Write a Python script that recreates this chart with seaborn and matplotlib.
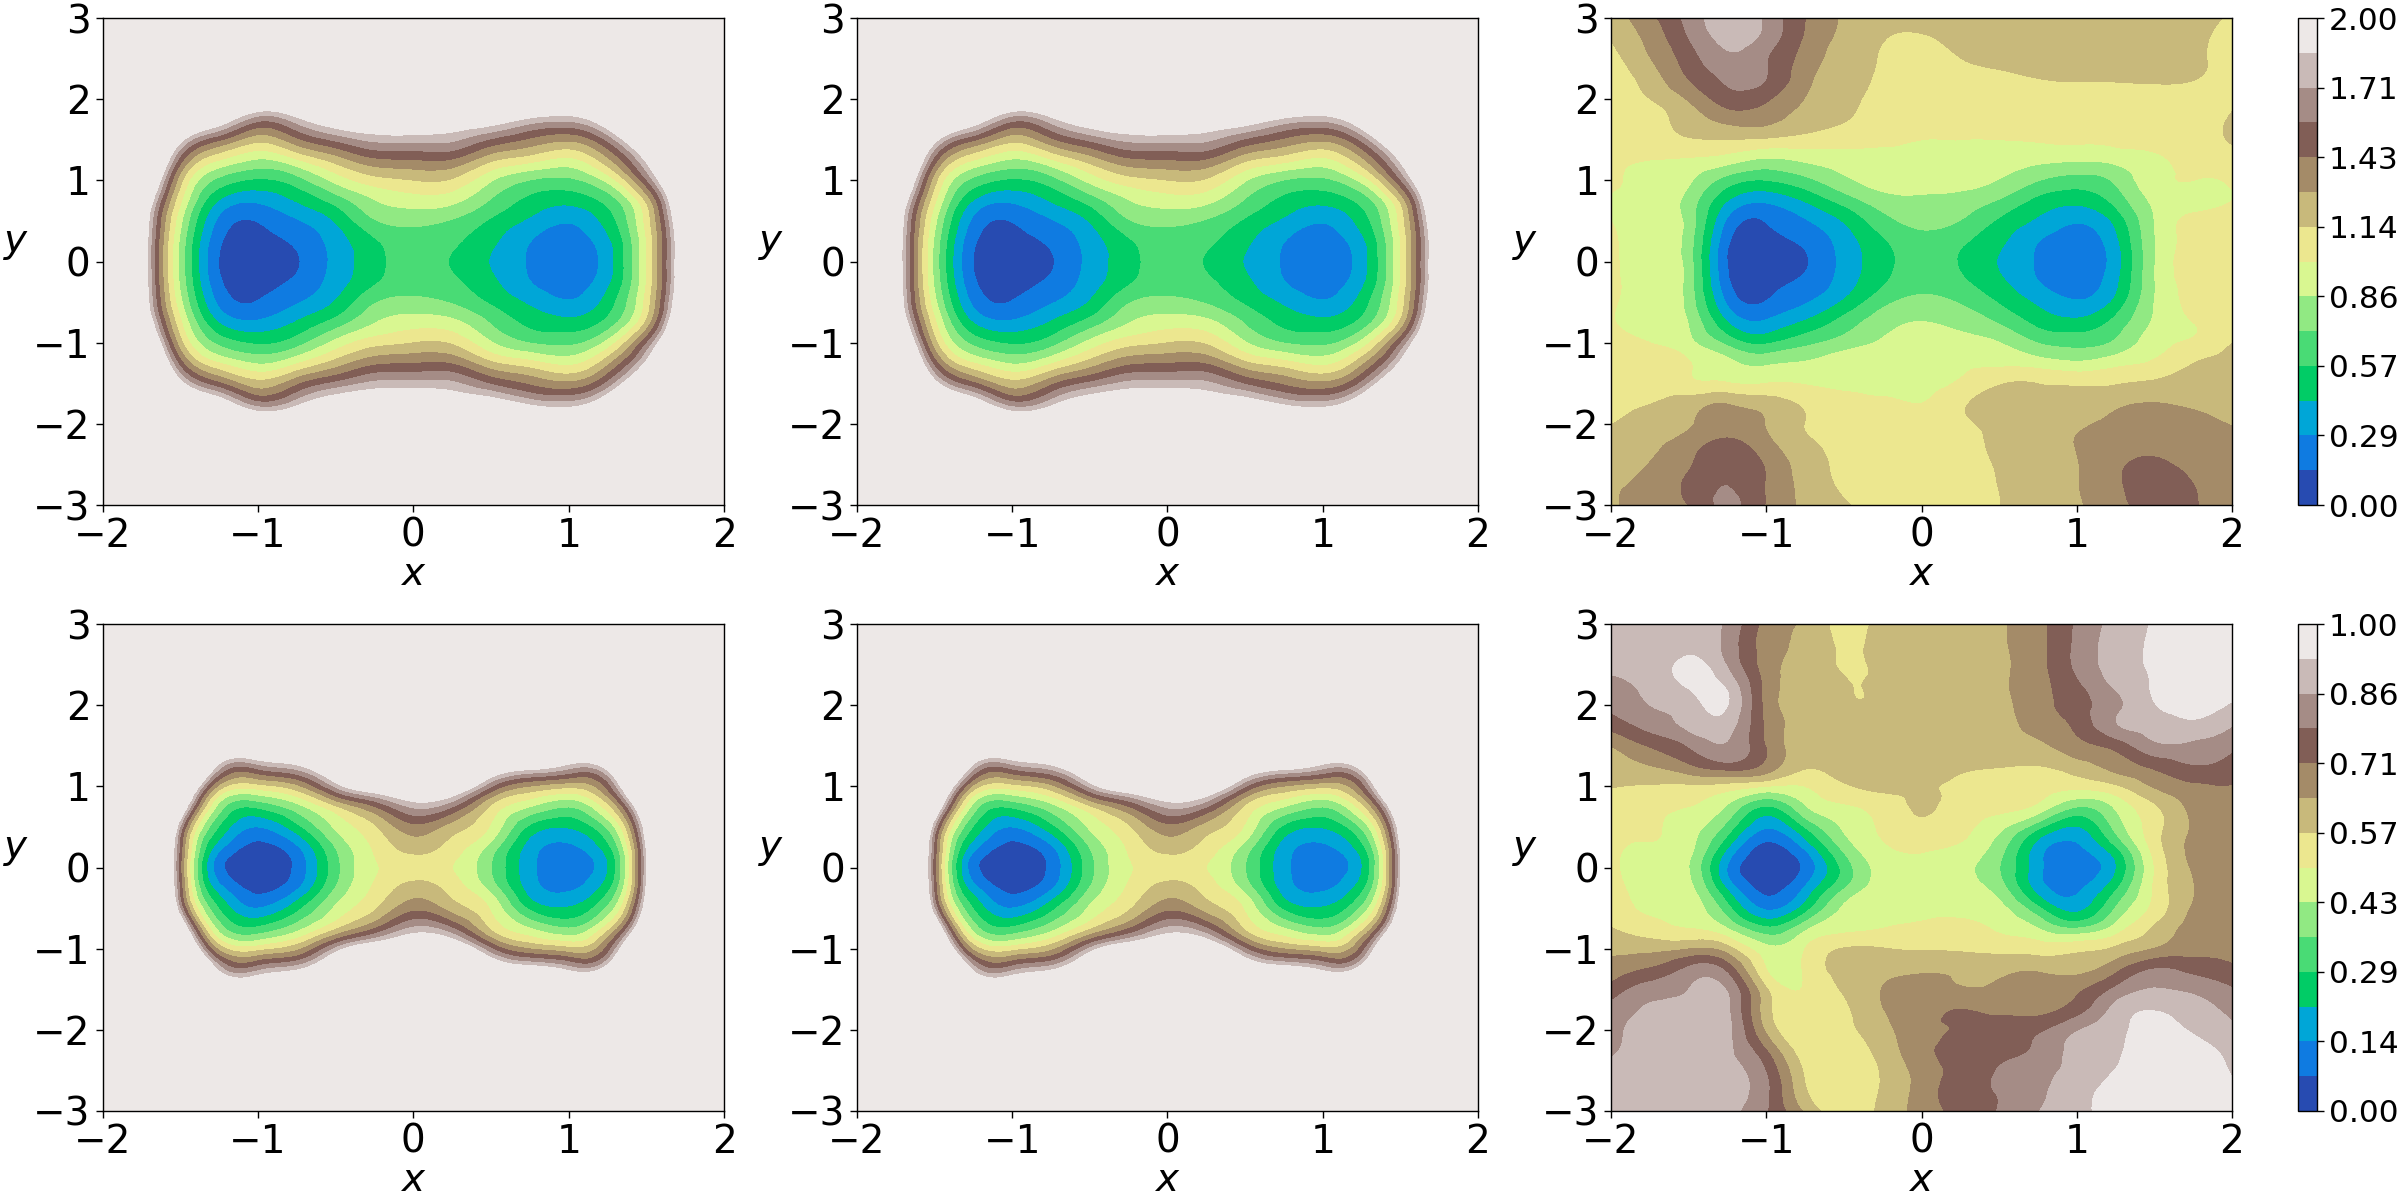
import numpy as np
import matplotlib
import matplotlib.pyplot as plt
import matplotlib.tri as mtri
import seaborn as sns
matplotlib.use('Agg')

sns.set_theme(style='ticks', rc={'axes.edgecolor': 'black', 'axes.linewidth': 1.0,
                                 'xtick.color': 'black', 'ytick.color': 'black',
                                 'text.color': 'black', 'axes.labelcolor': 'black',
                                 'xtick.major.width': 1.0, 'ytick.major.width': 1.0,
                                 'xtick.major.size': 5, 'ytick.major.size': 5})
plt.rcParams['font.family'] = ['DejaVu Sans']

x_grid = [-2, -1.75, -1.5, -1.25, -1, -0.75, -0.5, -0.25, 0, 0.25, 0.5, 0.75, 1, 1.25, 1.5, 1.75, 2]
y_half = [0, 0.25, 0.5, 0.75, 1, 1.25, 1.5, 1.75, 2, 2.25, 2.5, 2.75, 3]
y_full = [3, 2.75, 2.5, 2.25, 2, 1.75, 1.5, 1.25, 1, 0.75, 0.5, 0.25, 0,
          -0.25, -0.5, -0.75, -1, -1.25, -1.5, -1.75, -2, -2.25, -2.5, -2.75, -3]

# values, y >= 0 only for the mirrored panels
# (above the colour range they only set how steep the wall is)
top_left = [
    [4.6, 2.14, .81, .14, .04, .13, .33, .52, .63, .56, .42, .27, .20, .36, 1.0, 2.3, 4.6],
    [4.6, 2.15, .83, .17, .08, .17, .35, .55, .66, .60, .46, .29, .22, .39, 1.0, 2.3, 4.6],
    [4.7, 2.2, .90, .25, .15, .27, .44, .70, .75, .70, .55, .40, .30, .49, 1.05, 2.4, 4.7],
    [4.9, 2.4, 1.03, .42, .31, .44, .63, .85, .93, .90, .70, .53, .47, .62, 1.17, 2.6, 4.9],
    [5.2, 2.8, 1.2, .67, .55, .65, .90, 1.08, 1.14, 1.12, .87, .71, .68, .90, 1.55, 2.9, 5.2],
    [5.5, 3.2, 1.5, 1.0, .84, .98, 1.2, 1.39, 1.42, 1.41, 1.17, 1.05, .96, 1.24, 1.9, 3.3, 5.5],
    [5.9, 3.6, 1.95, 1.45, 1.19, 1.39, 1.6, 1.75, 1.76, 1.74, 1.55, 1.4, 1.31, 1.6, 2.4, 3.8, 5.9],
    [6.4, 4.2, 2.6, 2.05, 1.62, 1.8, 2.05, 2.15, 2.2, 2.1, 2.0, 1.82, 1.76, 2.1, 3.0, 4.3, 6.4],
    [7, 4.9, 3.3, 2.7, 2.3, 2.4, 2.6, 2.7, 2.75, 2.7, 2.55, 2.45, 2.35, 2.7, 3.7, 5, 7],
    [7.8, 5.7, 4.1, 3.5, 3.1, 3.2, 3.4, 3.5, 3.55, 3.5, 3.35, 3.2, 3.1, 3.5, 4.5, 5.8, 7.8],
    [8.7, 6.6, 5, 4.4, 4, 4.1, 4.3, 4.4, 4.5, 4.4, 4.3, 4.1, 4, 4.4, 5.4, 6.7, 8.7],
    [9.8, 7.7, 6.1, 5.5, 5.1, 5.2, 5.4, 5.5, 5.6, 5.5, 5.4, 5.2, 5.1, 5.5, 6.5, 7.8, 9.8],
    [11, 9, 7.3, 6.7, 6.3, 6.4, 6.6, 6.7, 6.8, 6.7, 6.6, 6.4, 6.3, 6.7, 7.7, 9, 11],
]

bottom_left = [
    [5, 2.4, .73, .10, .02, .09, .33, .49, .54, .50, .36, .165, .11, .21, .92, 2.6, 5],
    [5, 2.45, .76, .17, .05, .13, .36, .51, .60, .54, .40, .18, .13, .26, .94, 2.65, 5],
    [5.2, 2.55, .85, .28, .143, .26, .44, .56, .69, .61, .49, .27, .22, .37, 1.03, 2.75, 5.2],
    [5.4, 2.8, 1.13, .40, .30, .40, .56, .71, .87, .79, .56, .43, .36, .54, 1.24, 3, 5.4],
    [5.7, 3.1, 1.44, .62, .54, .62, .87, 1.07, 1.14, 1.1, .79, .64, .59, .74, 1.6, 3.3, 5.7],
    [6.1, 3.5, 1.85, .90, .83, .91, 1.2, 1.5, 1.5, 1.5, 1.14, 1.0, .90, 1.0, 2.0, 3.7, 6.1],
    [6.5, 4, 2.3, 1.3, 1.2, 1.3, 1.65, 1.9, 2, 1.9, 1.6, 1.45, 1.3, 1.5, 2.5, 4.2, 6.5],
    [7, 4.6, 2.9, 1.95, 1.75, 1.85, 2.2, 2.5, 2.55, 2.5, 2.2, 2.0, 1.9, 2.1, 3.1, 4.8, 7],
    [7.7, 5.3, 3.6, 2.6, 2.4, 2.5, 2.85, 3.2, 3.2, 3.2, 2.85, 2.65, 2.55, 2.8, 3.8, 5.5, 7.7],
    [8.5, 6.1, 4.4, 3.4, 3.2, 3.3, 3.6, 4, 4, 4, 3.6, 3.4, 3.3, 3.6, 4.6, 6.3, 8.5],
    [9.4, 7, 5.3, 4.3, 4.1, 4.2, 4.5, 4.9, 4.9, 4.9, 4.5, 4.3, 4.2, 4.5, 5.5, 7.2, 9.4],
    [10.4, 8, 6.3, 5.3, 5.1, 5.2, 5.5, 5.9, 5.9, 5.9, 5.5, 5.3, 5.2, 5.5, 6.5, 8.2, 10.4],
    [11.5, 9.1, 7.4, 6.4, 6.2, 6.3, 6.6, 7, 7, 7, 6.6, 6.4, 6.3, 6.6, 7.6, 9.3, 11.5],
]

top_right = [
    [1.2, 1.39, 1.62, 1.8, 1.68, 1.43, 1.27, 1.2, 1.17, 1.2, 1.22, 1.22, 1.22, 1.22, 1.22, 1.2, 1.12],
    [1.15, 1.33, 1.57, 1.76, 1.66, 1.41, 1.25, 1.15, 1.13, 1.18, 1.22, 1.22, 1.22, 1.22, 1.22, 1.18, 1.08],
    [1.09, 1.28, 1.5, 1.68, 1.58, 1.37, 1.22, 1.13, 1.08, 1.14, 1.2, 1.23, 1.23, 1.23, 1.23, 1.18, 1.07],
    [1.03, 1.21, 1.43, 1.6, 1.57, 1.33, 1.2, 1.12, 1.07, 1.07, 1.09, 1.14, 1.16, 1.16, 1.17, 1.15, 1.06],
    [1.02, 1.14, 1.3, 1.5, 1.45, 1.28, 1.18, 1.1, 1.06, 1.05, 1.05, 1.05, 1.06, 1.06, 1.06, 1.05, 1.1],
    [1.0, 1.08, 1.21, 1.33, 1.33, 1.22, 1.15, 1.09, 1.05, 1.03, 1.03, 1.03, 1.03, 1.03, 1.03, 1.03, 1.17],
    [1.03, 1.08, 1.13, 1.14, 1.12, 1.09, 1.06, 1.03, 1.0, 1.0, 1.0, 1.01, 1.02, 1.03, 1.05, 1.08, 1.16],
    [1.01, 1.0, .98, .92, .83, .88, .93, .96, .97, .96, .93, .89, .87, .90, .97, 1.04, 1.08],
    [1.01, .98, .88, .65, .57, .67, .82, .92, .94, .92, .85, .72, .65, .74, .95, 1.0, 1.02],
    [.99, .95, .80, .43, .31, .44, .63, .79, .82, .80, .70, .53, .47, .62, .89, .97, 1.0],
    [1.0, .96, .80, .26, .15, .27, .44, .66, .75, .71, .55, .40, .30, .47, .86, 1.03, 1.06],
    [1.02, .96, .78, .17, .08, .17, .35, .55, .66, .60, .46, .29, .22, .39, .85, 1.04, 1.07],
    [1.03, .96, .78, .14, .04, .13, .33, .52, .63, .56, .42, .27, .20, .36, .85, 1.05, 1.08],
    [1.03, .97, .79, .17, .08, .17, .35, .55, .66, .60, .46, .29, .22, .39, .85, 1.04, 1.07],
    [1.02, .97, .80, .26, .15, .27, .45, .67, .76, .70, .56, .40, .30, .47, .86, 1.02, 1.05],
    [1.01, .97, .85, .43, .31, .45, .63, .80, .86, .82, .70, .53, .47, .62, .88, 1.0, 1.04],
    [1.05, 1.0, .90, .67, .55, .67, .78, .88, .92, .90, .86, .71, .66, .74, .94, 1.02, 1.14],
    [1.08, 1.05, 1.01, .90, .83, .87, .94, .97, .97, .97, .97, .93, .88, .95, 1.02, 1.14, 1.2],
    [1.12, 1.08, 1.03, 1.01, 1.0, .99, .97, .97, .97, 1.02, 1.13, 1.14, 1.12, 1.13, 1.17, 1.19, 1.22],
    [1.11, 1.14, 1.22, 1.28, 1.22, 1.12, 1.06, 1.02, 1.0, 1.12, 1.18, 1.18, 1.2, 1.26, 1.29, 1.26, 1.23],
    [1.14, 1.19, 1.27, 1.36, 1.28, 1.14, 1.07, 1.03, 1.02, 1.11, 1.17, 1.2, 1.26, 1.32, 1.36, 1.33, 1.28],
    [1.18, 1.25, 1.36, 1.47, 1.33, 1.18, 1.09, 1.05, 1.04, 1.1, 1.16, 1.22, 1.29, 1.36, 1.4, 1.36, 1.32],
    [1.22, 1.29, 1.41, 1.55, 1.41, 1.22, 1.11, 1.06, 1.05, 1.11, 1.15, 1.22, 1.28, 1.4, 1.45, 1.39, 1.34],
    [1.26, 1.33, 1.46, 1.57, 1.42, 1.24, 1.12, 1.07, 1.06, 1.11, 1.145, 1.22, 1.28, 1.4, 1.5, 1.43, 1.34],
    [1.26, 1.35, 1.43, 1.6, 1.42, 1.26, 1.16, 1.08, 1.07, 1.1, 1.14, 1.21, 1.27, 1.38, 1.48, 1.44, 1.35],
]

bottom_right = [
    [.88, .89, .89, .84, .69, .63, .55, .59, .60, .61, .635, .69, .795, .88, .935, .97, .98],
    [.87, .88, .91, .83, .68, .625, .56, .595, .60, .61, .635, .69, .80, .89, .94, .98, .99],
    [.87, .89, .945, .85, .68, .61, .565, .585, .59, .60, .63, .69, .80, .89, .94, .98, .99],
    [.835, .875, .94, .91, .69, .61, .575, .58, .59, .60, .63, .69, .77, .87, .935, .98, .96],
    [.80, .857, .89, .93, .69, .62, .58, .58, .59, .60, .62, .69, .75, .84, .925, .96, .92],
    [.74, .815, .875, .89, .70, .62, .585, .585, .59, .60, .615, .67, .73, .85, .89, .91, .86],
    [.645, .72, .79, .85, .71, .60, .59, .59, .59, .60, .61, .625, .69, .74, .84, .84, .80],
    [.60, .64, .70, .755, .69, .58, .60, .60, .59, .58, .575, .57, .61, .67, .73, .78, .76],
    [.575, .565, .56, .54, .50, .50, .56, .59, .58, .56, .54, .53, .52, .56, .65, .70, .71],
    [.54, .52, .50, .42, .28, .42, .49, .53, .58, .54, .52, .48, .36, .44, .56, .66, .71],
    [.53, .51, .46, .33, .15, .29, .44, .51, .55, .52, .45, .31, .21, .38, .54, .65, .71],
    [.52, .49, .45, .22, .05, .16, .38, .49, .51, .49, .39, .18, .13, .28, .53, .66, .71],
    [.52, .47, .43, .14, .02, .09, .31, .46, .485, .45, .36, .165, .10, .21, .50, .65, .71],
    [.53, .48, .45, .20, .05, .15, .35, .47, .48, .46, .39, .18, .13, .27, .51, .64, .71],
    [.54, .49, .47, .31, .13, .25, .44, .49, .49, .48, .45, .30, .19, .36, .52, .65, .71],
    [.575, .53, .50, .43, .30, .41, .48, .50, .51, .52, .49, .43, .36, .46, .58, .67, .71],
    [.63, .62, .64, .60, .45, .50, .575, .575, .565, .56, .55, .54, .55, .585, .645, .69, .69],
    [.67, .72, .80, .76, .50, .51, .60, .625, .63, .63, .62, .63, .62, .69, .786, .76, .73],
    [.74, .82, .857, .85, .58, .505, .58, .645, .67, .65, .66, .69, .70, .80, .86, .84, .79],
    [.81, .865, .89, .87, .60, .52, .56, .64, .69, .715, .70, .70, .75, .88, .925, .89, .84],
    [.84, .875, .89, .875, .63, .52, .55, .62, .69, .72, .74, .77, .85, .91, .95, .92, .87],
    [.85, .875, .89, .87, .715, .53, .52, .60, .69, .745, .76, .80, .88, .92, .96, .96, .90],
    [.87, .88, .88, .875, .78, .56, .51, .58, .67, .74, .79, .83, .88, .93, .96, .98, .92],
    [.87, .875, .875, .875, .80, .58, .52, .58, .67, .76, .79, .84, .90, .95, .97, .98, .95],
    [.87, .87, .87, .87, .79, .63, .53, .59, .67, .74, .79, .855, .91, .95, .97, .98, .97],
]

x_ticks = [-2, -1, 0, 1, 2]
y_ticks = [-3, -2, -1, 0, 1, 2, 3]


def mirrored(rows):
    # the left panels are symmetric in y, only the upper half is listed
    rows = np.array(rows, dtype=float)
    return np.vstack([rows[:0:-1], rows])[::-1], np.r_[-np.array(y_half)[:0:-1], y_half]


cmap = sns.color_palette('terrain', as_cmap=True)
fig = plt.figure(figsize=(24, 12), dpi=100)
W, H = 2400.0, 1200.0


def add_ax(left, right, top, bottom):
    return fig.add_axes([left / W, 1 - bottom / H, (right - left) / W, (bottom - top) / H])


columns = [(102.5, 724), (857, 1478), (1611, 2232)]
rows_px = [(18, 505), (624, 1111)]
z_top, y_top = mirrored(top_left)
z_bot, y_bot = mirrored(bottom_left)
panels = [
    [(y_top, z_top), (y_top, z_top), (y_full, np.array(top_right))],
    [(y_bot, z_bot), (y_bot, z_bot), (y_full, np.array(bottom_right))],
]
maxima = [2.0, 1.0]

for r, (top, bottom) in enumerate(rows_px):
    levels = np.linspace(0, maxima[r], 15)
    for c, (left, right) in enumerate(columns):
        ax = add_ax(left, right, top, bottom)
        y_vals, z_vals = panels[r][c]
        # smooth contour lines over the read grid, matplotlib does the refining
        X, Y = np.meshgrid(x_grid, y_vals)
        tri = mtri.Triangulation(X.ravel(), Y.ravel())
        interp = mtri.CubicTriInterpolator(tri, z_vals.ravel(), kind='min_E')
        tri_fine, z_fine = mtri.UniformTriRefiner(tri).refine_field(z_vals.ravel(), interp, subdiv=3)
        z_fine = np.clip(z_fine, 0, maxima[r] * 0.9999)
        cf = ax.tricontourf(tri_fine, z_fine, levels=levels, cmap=cmap)
        ax.set_xlim(-2, 2)
        ax.set_ylim(-3, 3)
        ax.set_xticks(x_ticks)
        ax.set_yticks(y_ticks)
        ax.tick_params(labelsize=28)
        ax.set_xlabel('$x$', fontsize=28, labelpad=0)
        ax.set_ylabel('$y$', fontsize=28, rotation=0, labelpad=12)
    cax = add_ax(2298, 2317, top, bottom)
    cb = fig.colorbar(cf, cax=cax, ticks=np.linspace(0, maxima[r], 8), format='%.2f')
    cb.ax.tick_params(labelsize=22.5)

fig.savefig('out.png', dpi=100)
